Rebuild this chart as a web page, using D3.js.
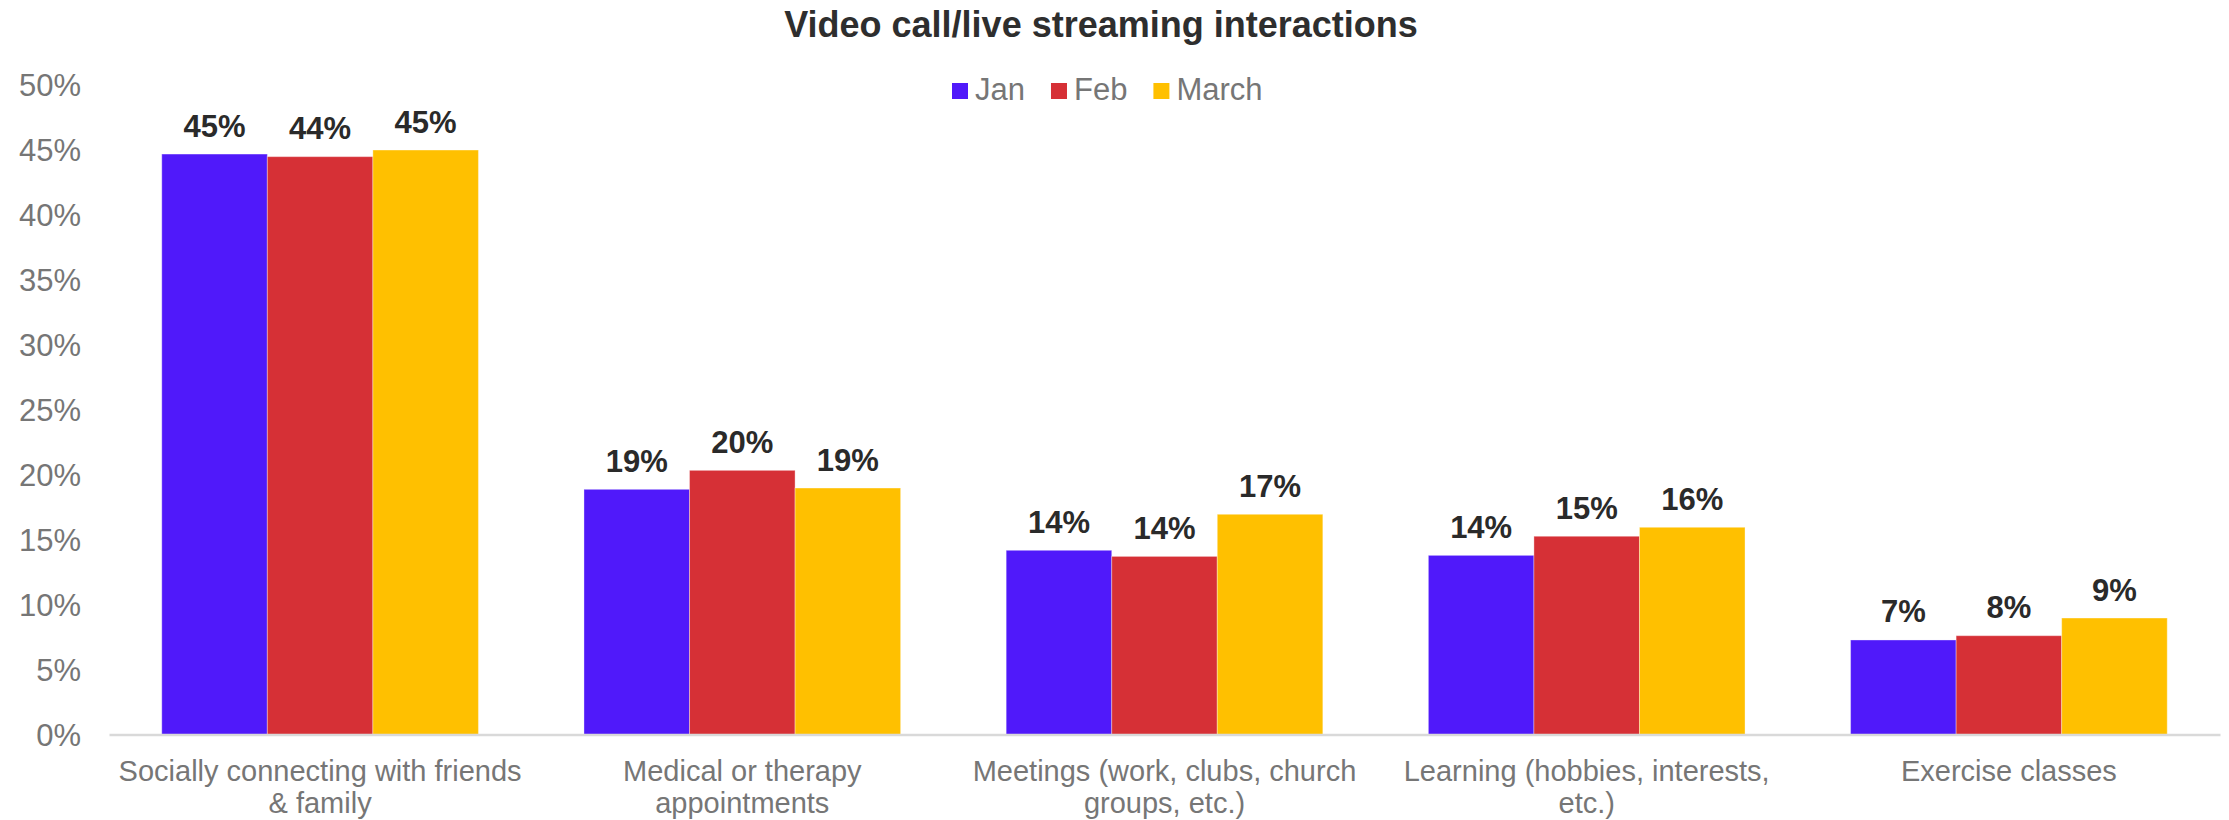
<!DOCTYPE html>
<html>
<head>
<meta charset="utf-8">
<script src="https://cdn.jsdelivr.net/npm/d3@7"></script>
<style>
  html, body { margin: 0; padding: 0; background: #fff; }
  svg { display: block; font-family: "Liberation Sans", Arial, Helvetica, sans-serif; }
</style>
</head>
<body>
<svg id="chart" width="2229" height="820"></svg>
<script>
// Share of respondents using video call / live streaming, by activity and month
const categories = [
  "Socially connecting with friends & family",
  "Medical or therapy appointments",
  "Meetings (work, clubs, church groups, etc.)",
  "Learning (hobbies, interests, etc.)",
  "Exercise classes"
];
const seriesNames = ["Jan", "Feb", "March"];
const janValues   = [0.4465, 0.1886, 0.1417, 0.1378, 0.0727];
const febValues   = [0.4445, 0.2032, 0.1370, 0.1525, 0.0760];
const marchValues = [0.4496, 0.1896, 0.1694, 0.1594, 0.0896];
const yTickValues = [0, 0.05, 0.10, 0.15, 0.20, 0.25, 0.30, 0.35, 0.40, 0.45, 0.50];
const seriesColors = ["#5019FA", "#D63036", "#FFC000"];

const seriesValues = [janValues, febValues, marchValues];
const rows = categories.map((c, i) => ({
  category: c,
  values: seriesNames.map((s, k) => ({ series: s, value: seriesValues[k][i] }))
}));

const svg = d3.select("#chart");
const plot = { left: 109, right: 2220, top: 84.5, bottom: 734.5 };
const pct = d3.format(".0%");

const x0 = d3.scaleBand()
  .domain(categories)
  .range([plot.left, plot.right])
  .paddingInner(0.25)
  .paddingOuter(0.125);
const x1 = d3.scaleBand()
  .domain(seriesNames)
  .range([0, x0.bandwidth()]);
const y = d3.scaleLinear()
  .domain([0, 0.5])
  .range([plot.bottom, plot.top]);
const color = d3.scaleOrdinal().domain(seriesNames).range(seriesColors);

// Title
svg.append("text")
  .attr("x", 1101)
  .attr("y", 37)
  .attr("text-anchor", "middle")
  .attr("font-size", 36)
  .attr("font-weight", "bold")
  .attr("fill", "#2E2E2E")
  .text("Video call/live streaming interactions");

// Y axis (labels only)
const yAxis = svg.append("g")
  .attr("transform", `translate(${plot.left},0)`)
  .call(d3.axisLeft(y).tickValues(yTickValues).tickFormat(pct).tickSize(0).tickPadding(28));
yAxis.select(".domain").remove();
yAxis.selectAll("text")
  .attr("font-size", 31)
  .attr("fill", "#767676")
  .attr("font-family", null)
  .attr("dy", "0.35em");

// Bars
const groups = svg.append("g")
  .selectAll("g")
  .data(rows)
  .join("g")
  .attr("transform", d => `translate(${x0(d.category)},0)`);

groups.selectAll("rect")
  .data(d => d.values)
  .join("rect")
  .attr("x", d => x1(d.series))
  .attr("y", d => y(d.value))
  .attr("width", x1.bandwidth())
  .attr("height", d => y(0) - y(d.value))
  .attr("fill", d => color(d.series))
  .attr("stroke", "#fff")
  .attr("stroke-opacity", 0.35)
  .attr("stroke-width", 1);

// Value labels
groups.selectAll("text.value")
  .data(d => d.values)
  .join("text")
  .attr("class", "value")
  .attr("x", d => x1(d.series) + x1.bandwidth() / 2)
  .attr("y", d => y(d.value) - 17.5)
  .attr("text-anchor", "middle")
  .attr("font-size", 31)
  .attr("font-weight", "bold")
  .attr("fill", "#2A2A2A")
  .text(d => pct(d.value));

// X axis
const xAxis = svg.append("g")
  .attr("transform", `translate(0,${plot.bottom})`)
  .call(d3.axisBottom(x0).tickSize(0).tickSizeOuter(0).tickPadding(0));
xAxis.select(".domain")
  .attr("stroke", "#D9D9D9")
  .attr("stroke-width", 2.5);

// Category labels, wrapped to the width of one category slot
const wrapWidth = x0.step() - 6;
xAxis.selectAll(".tick text")
  .attr("font-size", 29)
  .attr("fill", "#767676")
  .attr("font-family", null)
  .each(function(d) {
    const text = d3.select(this);
    const words = d.split(" ");
    text.text(null).attr("y", 0).attr("dy", null);
    let line = [];
    let lineNo = 0;
    let tspan = text.append("tspan").attr("x", 0).attr("y", 46);
    words.forEach(w => {
      line.push(w);
      tspan.text(line.join(" "));
      if (tspan.node().getComputedTextLength() > wrapWidth && line.length > 1) {
        line.pop();
        tspan.text(line.join(" "));
        line = [w];
        lineNo += 1;
        tspan = text.append("tspan").attr("x", 0).attr("y", 46 + lineNo * 32).text(w);
      }
    });
  });

// Legend
const legend = svg.append("g").attr("transform", "translate(952,0)");
let lx = 0;
seriesNames.forEach(name => {
  const item = legend.append("g").attr("transform", `translate(${lx},0)`);
  item.append("rect")
    .attr("x", 0).attr("y", 83)
    .attr("width", 16).attr("height", 16)
    .attr("fill", color(name));
  const t = item.append("text")
    .attr("x", 23).attr("y", 100)
    .attr("font-size", 31)
    .attr("fill", "#767676")
    .text(name);
  lx += 23 + t.node().getComputedTextLength() + 26;
});
</script>
</body>
</html>
